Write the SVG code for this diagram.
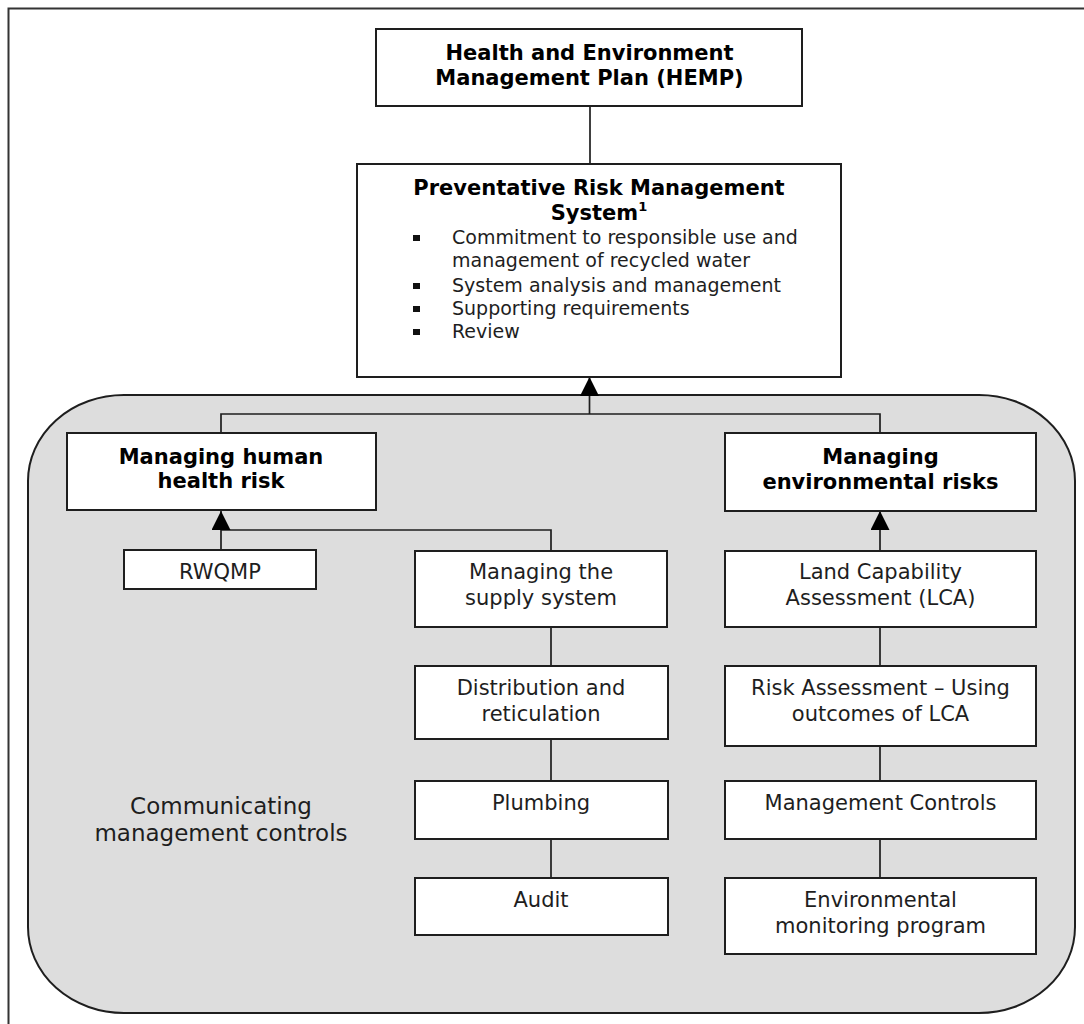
<svg xmlns="http://www.w3.org/2000/svg" width="1084" height="1024" viewBox="0 0 1084 1024">
<defs>
<style>
.box{fill:#fff;stroke:#1e1e1e;stroke-width:2}
.ln{fill:none;stroke:#1e1e1e;stroke-width:1.7}
.t{font-family:"DejaVu Sans","Liberation Sans",sans-serif;font-size:21px;fill:#1e1e1e;text-anchor:middle}
.b{font-family:"DejaVu Sans","Liberation Sans",sans-serif;font-size:21px;font-weight:bold;fill:#000;text-anchor:middle}
.bl{font-family:"DejaVu Sans","Liberation Sans",sans-serif;font-size:19px;fill:#1e1e1e}
.sq{fill:#111}
</style>
<marker id="arr" viewBox="0 0 19 19" refX="19" refY="9.5" markerWidth="19" markerHeight="19" markerUnits="userSpaceOnUse" orient="auto">
<path d="M0,0 L19,9.5 L0,19 z" fill="#000"/>
</marker>
</defs>
<rect x="0" y="0" width="1084" height="1024" fill="#fff"/>
<rect x="8.5" y="8.5" width="1200" height="1200" fill="none" stroke="#333" stroke-width="2"/>
<g id="region">
<rect x="28" y="395" width="1047" height="618" rx="96" ry="86" fill="#dddddd" stroke="#1e1e1e" stroke-width="2"/>
<text class="t" x="221" y="814" style="font-size:23px">Communicating</text>
<text class="t" x="221" y="841" style="font-size:23px">management controls</text>
</g>
<g id="connectors">
<path class="ln" d="M590,106 V164"/>
<path class="ln" d="M221,433 V414 H880 V433"/>
<path class="ln" d="M589.5,414 V377" marker-end="url(#arr)"/>
<path class="ln" d="M221,550 V530 H551 V551"/>
<path class="ln" d="M221,530 V511" marker-end="url(#arr)"/>
<path class="ln" d="M880,551 V511" marker-end="url(#arr)"/>
<path class="ln" d="M551,627 V666 M551,739 V781 M551,839 V878"/>
<path class="ln" d="M880,627 V666 M880,746 V781 M880,839 V878"/>
</g>
<g id="hemp">
<rect class="box" x="376" y="29" width="426" height="77"/>
<text class="b" x="589.5" y="60">Health and Environment</text>
<text class="b" x="589.5" y="85">Management Plan (HEMP)</text>
</g>
<g id="prms">
<rect class="box" x="357" y="164" width="484" height="213"/>
<text class="b" x="599" y="195">Preventative Risk Management</text>
<text class="b" x="599" y="220">System<tspan dy="-9" style="font-size:13px">1</tspan></text>
<rect class="sq" x="413" y="235" width="7" height="6"/>
<rect class="sq" x="413" y="283" width="7" height="6"/>
<rect class="sq" x="413" y="306" width="7" height="6"/>
<rect class="sq" x="413" y="329" width="7" height="6"/>
<text class="bl" x="452" y="244">Commitment to responsible use and</text>
<text class="bl" x="452" y="267">management of recycled water</text>
<text class="bl" x="452" y="292">System analysis and management</text>
<text class="bl" x="452" y="315">Supporting requirements</text>
<text class="bl" x="452" y="338">Review</text>
</g>
<g id="human">
<rect class="box" x="67" y="433" width="309" height="77"/>
<text class="b" x="221" y="464">Managing human</text>
<text class="b" x="221" y="488">health risk</text>
</g>
<g id="env">
<rect class="box" x="725" y="433" width="311" height="78"/>
<text class="b" x="880.5" y="464">Managing</text>
<text class="b" x="880.5" y="489">environmental risks</text>
</g>
<g id="rwqmp">
<rect class="box" x="124" y="550" width="192" height="39"/>
<text class="t" x="220" y="579">RWQMP</text>
</g>
<g id="supply">
<rect class="box" x="415" y="551" width="252" height="76"/>
<text class="t" x="541" y="579">Managing the</text>
<text class="t" x="541" y="605">supply system</text>
</g>
<g id="distribution">
<rect class="box" x="415" y="666" width="253" height="73"/>
<text class="t" x="541" y="695">Distribution and</text>
<text class="t" x="541" y="721">reticulation</text>
</g>
<g id="plumbing">
<rect class="box" x="415" y="781" width="253" height="58"/>
<text class="t" x="541" y="810">Plumbing</text>
</g>
<g id="audit">
<rect class="box" x="415" y="878" width="253" height="57"/>
<text class="t" x="541" y="907">Audit</text>
</g>
<g id="lca">
<rect class="box" x="725" y="551" width="311" height="76"/>
<text class="t" x="880.5" y="579">Land Capability</text>
<text class="t" x="880.5" y="605">Assessment (LCA)</text>
</g>
<g id="risk">
<rect class="box" x="725" y="666" width="311" height="80"/>
<text class="t" x="880.5" y="695">Risk Assessment – Using</text>
<text class="t" x="880.5" y="721">outcomes of LCA</text>
</g>
<g id="controls">
<rect class="box" x="725" y="781" width="311" height="58"/>
<text class="t" x="880.5" y="810">Management Controls</text>
</g>
<g id="monitoring">
<rect class="box" x="725" y="878" width="311" height="76"/>
<text class="t" x="880.5" y="907">Environmental</text>
<text class="t" x="880.5" y="933">monitoring program</text>
</g>
</svg>
